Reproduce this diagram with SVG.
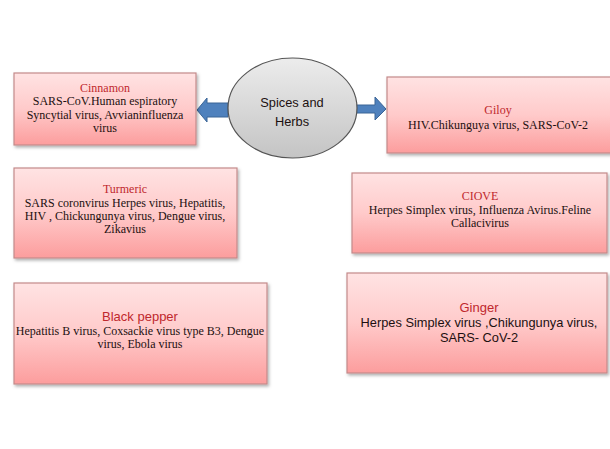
<svg xmlns="http://www.w3.org/2000/svg" width="610" height="449" viewBox="0 0 610 449">
<defs>
<linearGradient id="pink" x1="0" y1="0" x2="0" y2="1">
<stop offset="0" stop-color="#ffe3e3"/>
<stop offset="0.5" stop-color="#ffcaca"/>
<stop offset="1" stop-color="#fc9d9d"/>
</linearGradient>
<linearGradient id="grey" x1="0" y1="0" x2="0" y2="1">
<stop offset="0" stop-color="#ececec"/>
<stop offset="1" stop-color="#c4c4c4"/>
</linearGradient>
<filter id="sh" x="-5%" y="-5%" width="115%" height="120%">
<feDropShadow dx="1.5" dy="2" stdDeviation="1.5" flood-color="#000" flood-opacity="0.3"/>
</filter>
</defs>
<style>
.box{fill:url(#pink);stroke:#c48a8a;stroke-width:1.2;filter:url(#sh)}
.ser{font-family:"Liberation Serif","Times New Roman",serif;font-size:12px;fill:#1c1010;text-anchor:middle}
.st{font-family:"Liberation Serif","Times New Roman",serif;font-size:12px;fill:#c0282d;text-anchor:middle}
.san{font-family:"Liberation Sans",Arial,sans-serif;font-size:12.8px;fill:#1c1010;text-anchor:middle}
.sant{font-family:"Liberation Sans",Arial,sans-serif;font-size:13px;fill:#c0282d;text-anchor:middle}
.arr{fill:#4f81bd;stroke:#3a6496;stroke-width:1}
</style>
<rect width="610" height="449" fill="#ffffff"/>
<g id="connectors">
<path class="arr" d="M228,103 L207,103 L207,98 L197,110 L207,122 L207,117 L228,117 Z"/>
<path class="arr" d="M355,105 L375,105 L375,97 L386,109 L375,120 L375,113 L355,113 Z"/>
</g>
<g id="center">
<ellipse cx="292.5" cy="108" rx="64.5" ry="50" fill="url(#grey)" stroke="#555" stroke-width="1.2"/>
<text class="san" x="292" y="107">Spices and</text>
<text class="san" x="292" y="126">Herbs</text>
</g>
<g id="cinnamon">
<rect class="box" x="14" y="73" width="182" height="72"/>
<text class="st" x="105" y="92">Cinnamon</text>
<text class="ser" x="105" y="105.3">SARS-CoV.Human espiratory</text>
<text class="ser" x="105" y="118.6">Syncytial  virus, Avvianinfluenza</text>
<text class="ser" x="105" y="132">virus</text>
</g>
<g id="giloy">
<rect class="box" x="387" y="77" width="226" height="76"/>
<text class="st" x="498" y="114">Giloy</text>
<text class="ser" x="498" y="129">HIV.Chikunguya virus, SARS-CoV-2</text>
</g>
<g id="turmeric">
<rect class="box" x="14" y="168" width="223" height="90"/>
<text class="st" x="125" y="193.3">Turmeric</text>
<text class="ser" x="125" y="206.6">SARS coronvirus Herpes virus, Hepatitis,</text>
<text class="ser" x="125" y="220">HIV , Chickungunya virus, Dengue virus,</text>
<text class="ser" x="125" y="233.3">Zikavius</text>
</g>
<g id="clove">
<rect class="box" x="352" y="173" width="255" height="80"/>
<text class="st" x="480" y="200.4">CIOVE</text>
<text class="ser" x="480" y="213.7">Herpes Simplex virus, Influenza Avirus.Feline</text>
<text class="ser" x="480" y="227">Callacivirus</text>
</g>
<g id="blackpepper">
<rect class="box" x="14" y="283" width="253" height="101"/>
<text class="sant" x="140" y="321">Black pepper</text>
<text class="ser" x="140" y="335">Hepatitis B virus, Coxsackie virus type B3, Dengue</text>
<text class="ser" x="140" y="348.3">virus, Ebola virus</text>
</g>
<g id="ginger">
<rect class="box" x="347" y="273" width="260" height="100"/>
<text class="sant" x="479" y="312">Ginger</text>
<text class="san" x="479" y="327">Herpes Simplex virus ,Chikungunya  virus,</text>
<text class="san" x="479" y="341.7">SARS- CoV-2</text>
</g>
</svg>
